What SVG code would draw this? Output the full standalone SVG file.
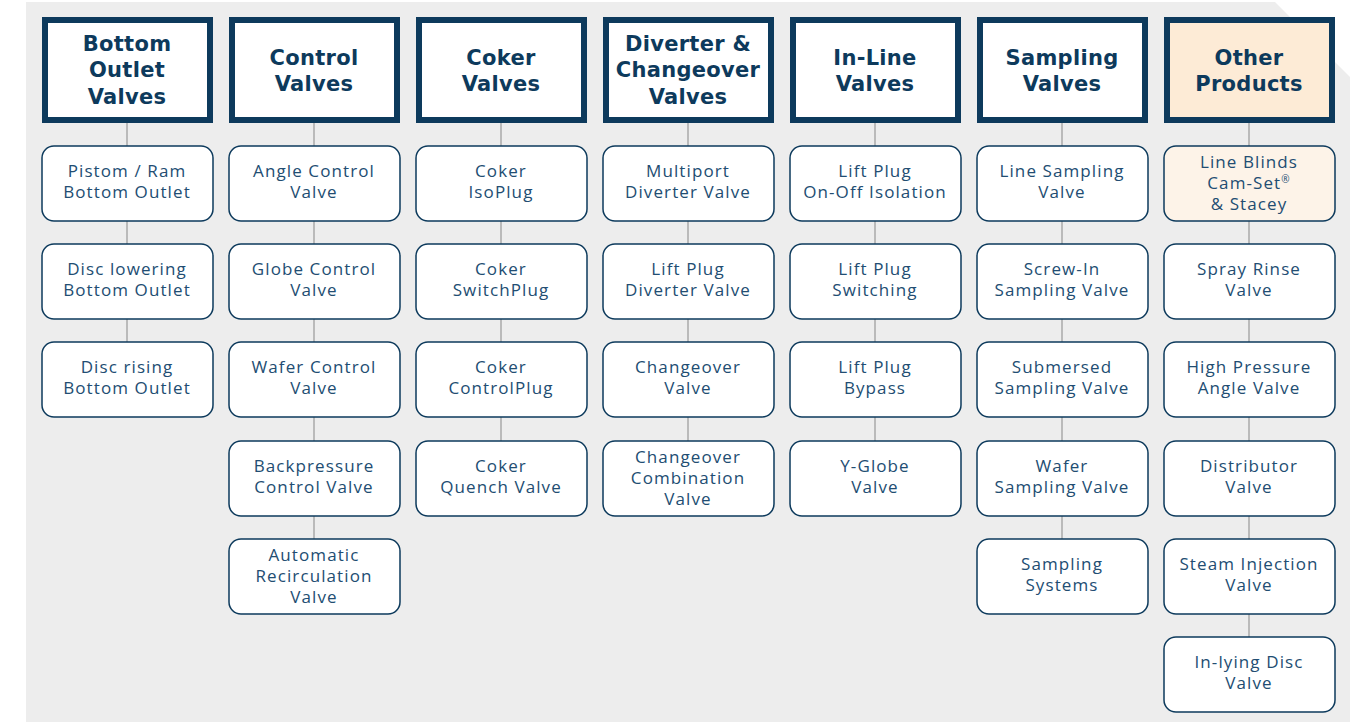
<svg xmlns="http://www.w3.org/2000/svg" width="1356" height="722" viewBox="0 0 1356 722">
<style>
.bg{fill:#ededed}
.hd{fill:#ffffff;stroke:#0d3a5c;stroke-width:6}
.hd.o{fill:#fdebd6}
.bx{fill:#ffffff;stroke:#0d3a5c;stroke-width:1.5}
.bx.o{fill:#fdf3e8}
.ht{font-family:"DejaVu Sans",sans-serif;font-weight:700;font-size:21px;letter-spacing:0.3px;fill:#0d3a5c;text-anchor:middle}
.ct{font-family:"Open Sans","Noto Sans",sans-serif;font-size:17px;letter-spacing:1.1px;fill:#224d72;text-anchor:middle}
.cn line{stroke:#a9a9a9;stroke-width:1.5}
</style>
<polygon class="bg" points="26,2 1275,2 1350,77 1350,722 26,722"/>
<g class="cn">
<line x1="127" y1="123" x2="127" y2="146"/><line x1="127" y1="221" x2="127" y2="244"/><line x1="127" y1="319" x2="127" y2="342"/>
<line x1="314" y1="123" x2="314" y2="146"/><line x1="314" y1="221" x2="314" y2="244"/><line x1="314" y1="319" x2="314" y2="342"/><line x1="314" y1="417" x2="314" y2="441"/><line x1="314" y1="516" x2="314" y2="539"/>
<line x1="501" y1="123" x2="501" y2="146"/><line x1="501" y1="221" x2="501" y2="244"/><line x1="501" y1="319" x2="501" y2="342"/><line x1="501" y1="417" x2="501" y2="441"/>
<line x1="688" y1="123" x2="688" y2="146"/><line x1="688" y1="221" x2="688" y2="244"/><line x1="688" y1="319" x2="688" y2="342"/><line x1="688" y1="417" x2="688" y2="441"/>
<line x1="875" y1="123" x2="875" y2="146"/><line x1="875" y1="221" x2="875" y2="244"/><line x1="875" y1="319" x2="875" y2="342"/><line x1="875" y1="417" x2="875" y2="441"/>
<line x1="1062" y1="123" x2="1062" y2="146"/><line x1="1062" y1="221" x2="1062" y2="244"/><line x1="1062" y1="319" x2="1062" y2="342"/><line x1="1062" y1="417" x2="1062" y2="441"/><line x1="1062" y1="516" x2="1062" y2="539"/>
<line x1="1249" y1="123" x2="1249" y2="146"/><line x1="1249" y1="221" x2="1249" y2="244"/><line x1="1249" y1="319" x2="1249" y2="342"/><line x1="1249" y1="417" x2="1249" y2="441"/><line x1="1249" y1="516" x2="1249" y2="539"/><line x1="1249" y1="614" x2="1249" y2="637"/>
</g>
<g id="h1"><rect class="hd" x="45" y="20" width="165" height="100"/><text class="ht"><tspan x="127" y="51">Bottom</tspan><tspan x="127" y="77">Outlet</tspan><tspan x="127" y="104">Valves</tspan></text></g>
<g id="h2"><rect class="hd" x="232" y="20" width="165" height="100"/><text class="ht"><tspan x="314" y="65">Control</tspan><tspan x="314" y="91">Valves</tspan></text></g>
<g id="h3"><rect class="hd" x="419" y="20" width="165" height="100"/><text class="ht"><tspan x="501" y="65">Coker</tspan><tspan x="501" y="91">Valves</tspan></text></g>
<g id="h4"><rect class="hd" x="606" y="20" width="165" height="100"/><text class="ht"><tspan x="688" y="51">Diverter &amp;</tspan><tspan x="688" y="77">Changeover</tspan><tspan x="688" y="104">Valves</tspan></text></g>
<g id="h5"><rect class="hd" x="793" y="20" width="165" height="100"/><text class="ht"><tspan x="875" y="65">In-Line</tspan><tspan x="875" y="91">Valves</tspan></text></g>
<g id="h6"><rect class="hd" x="980" y="20" width="165" height="100"/><text class="ht"><tspan x="1062" y="65">Sampling</tspan><tspan x="1062" y="91">Valves</tspan></text></g>
<g id="h7"><rect class="hd o" x="1167" y="20" width="165" height="100"/><text class="ht"><tspan x="1249" y="65">Other</tspan><tspan x="1249" y="91">Products</tspan></text></g>
<g id="c1r1"><rect class="bx" x="42" y="146" width="171" height="75" rx="12"/><text class="ct"><tspan x="127" y="177">Pistom / Ram</tspan><tspan x="127" y="198">Bottom Outlet</tspan></text></g>
<g id="c1r2"><rect class="bx" x="42" y="244" width="171" height="75" rx="12"/><text class="ct"><tspan x="127" y="275">Disc lowering</tspan><tspan x="127" y="296">Bottom Outlet</tspan></text></g>
<g id="c1r3"><rect class="bx" x="42" y="342" width="171" height="75" rx="12"/><text class="ct"><tspan x="127" y="373">Disc rising</tspan><tspan x="127" y="394">Bottom Outlet</tspan></text></g>
<g id="c2r1"><rect class="bx" x="229" y="146" width="171" height="75" rx="12"/><text class="ct"><tspan x="314" y="177">Angle Control</tspan><tspan x="314" y="198">Valve</tspan></text></g>
<g id="c2r2"><rect class="bx" x="229" y="244" width="171" height="75" rx="12"/><text class="ct"><tspan x="314" y="275">Globe Control</tspan><tspan x="314" y="296">Valve</tspan></text></g>
<g id="c2r3"><rect class="bx" x="229" y="342" width="171" height="75" rx="12"/><text class="ct"><tspan x="314" y="373">Wafer Control</tspan><tspan x="314" y="394">Valve</tspan></text></g>
<g id="c2r4"><rect class="bx" x="229" y="441" width="171" height="75" rx="12"/><text class="ct"><tspan x="314" y="472">Backpressure</tspan><tspan x="314" y="493">Control Valve</tspan></text></g>
<g id="c2r5"><rect class="bx" x="229" y="539" width="171" height="75" rx="12"/><text class="ct"><tspan x="314" y="561">Automatic</tspan><tspan x="314" y="582">Recirculation</tspan><tspan x="314" y="603">Valve</tspan></text></g>
<g id="c3r1"><rect class="bx" x="416" y="146" width="171" height="75" rx="12"/><text class="ct"><tspan x="501" y="177">Coker</tspan><tspan x="501" y="198">IsoPlug</tspan></text></g>
<g id="c3r2"><rect class="bx" x="416" y="244" width="171" height="75" rx="12"/><text class="ct"><tspan x="501" y="275">Coker</tspan><tspan x="501" y="296">SwitchPlug</tspan></text></g>
<g id="c3r3"><rect class="bx" x="416" y="342" width="171" height="75" rx="12"/><text class="ct"><tspan x="501" y="373">Coker</tspan><tspan x="501" y="394">ControlPlug</tspan></text></g>
<g id="c3r4"><rect class="bx" x="416" y="441" width="171" height="75" rx="12"/><text class="ct"><tspan x="501" y="472">Coker</tspan><tspan x="501" y="493">Quench Valve</tspan></text></g>
<g id="c4r1"><rect class="bx" x="603" y="146" width="171" height="75" rx="12"/><text class="ct"><tspan x="688" y="177">Multiport</tspan><tspan x="688" y="198">Diverter Valve</tspan></text></g>
<g id="c4r2"><rect class="bx" x="603" y="244" width="171" height="75" rx="12"/><text class="ct"><tspan x="688" y="275">Lift Plug</tspan><tspan x="688" y="296">Diverter Valve</tspan></text></g>
<g id="c4r3"><rect class="bx" x="603" y="342" width="171" height="75" rx="12"/><text class="ct"><tspan x="688" y="373">Changeover</tspan><tspan x="688" y="394">Valve</tspan></text></g>
<g id="c4r4"><rect class="bx" x="603" y="441" width="171" height="75" rx="12"/><text class="ct"><tspan x="688" y="463">Changeover</tspan><tspan x="688" y="484">Combination</tspan><tspan x="688" y="505">Valve</tspan></text></g>
<g id="c5r1"><rect class="bx" x="790" y="146" width="171" height="75" rx="12"/><text class="ct"><tspan x="875" y="177">Lift Plug</tspan><tspan x="875" y="198">On-Off Isolation</tspan></text></g>
<g id="c5r2"><rect class="bx" x="790" y="244" width="171" height="75" rx="12"/><text class="ct"><tspan x="875" y="275">Lift Plug</tspan><tspan x="875" y="296">Switching</tspan></text></g>
<g id="c5r3"><rect class="bx" x="790" y="342" width="171" height="75" rx="12"/><text class="ct"><tspan x="875" y="373">Lift Plug</tspan><tspan x="875" y="394">Bypass</tspan></text></g>
<g id="c5r4"><rect class="bx" x="790" y="441" width="171" height="75" rx="12"/><text class="ct"><tspan x="875" y="472">Y-Globe</tspan><tspan x="875" y="493">Valve</tspan></text></g>
<g id="c6r1"><rect class="bx" x="977" y="146" width="171" height="75" rx="12"/><text class="ct"><tspan x="1062" y="177">Line Sampling</tspan><tspan x="1062" y="198">Valve</tspan></text></g>
<g id="c6r2"><rect class="bx" x="977" y="244" width="171" height="75" rx="12"/><text class="ct"><tspan x="1062" y="275">Screw-In</tspan><tspan x="1062" y="296">Sampling Valve</tspan></text></g>
<g id="c6r3"><rect class="bx" x="977" y="342" width="171" height="75" rx="12"/><text class="ct"><tspan x="1062" y="373">Submersed</tspan><tspan x="1062" y="394">Sampling Valve</tspan></text></g>
<g id="c6r4"><rect class="bx" x="977" y="441" width="171" height="75" rx="12"/><text class="ct"><tspan x="1062" y="472">Wafer</tspan><tspan x="1062" y="493">Sampling Valve</tspan></text></g>
<g id="c6r5"><rect class="bx" x="977" y="539" width="171" height="75" rx="12"/><text class="ct"><tspan x="1062" y="570">Sampling</tspan><tspan x="1062" y="591">Systems</tspan></text></g>
<g id="c7r1"><rect class="bx o" x="1164" y="146" width="171" height="75" rx="12"/><text class="ct"><tspan x="1249" y="168">Line Blinds</tspan><tspan x="1249" y="189">Cam-Set</tspan><tspan font-size="10" dy="-6">®</tspan><tspan x="1249" y="210">&amp; Stacey</tspan></text></g>
<g id="c7r2"><rect class="bx" x="1164" y="244" width="171" height="75" rx="12"/><text class="ct"><tspan x="1249" y="275">Spray Rinse</tspan><tspan x="1249" y="296">Valve</tspan></text></g>
<g id="c7r3"><rect class="bx" x="1164" y="342" width="171" height="75" rx="12"/><text class="ct"><tspan x="1249" y="373">High Pressure</tspan><tspan x="1249" y="394">Angle Valve</tspan></text></g>
<g id="c7r4"><rect class="bx" x="1164" y="441" width="171" height="75" rx="12"/><text class="ct"><tspan x="1249" y="472">Distributor</tspan><tspan x="1249" y="493">Valve</tspan></text></g>
<g id="c7r5"><rect class="bx" x="1164" y="539" width="171" height="75" rx="12"/><text class="ct"><tspan x="1249" y="570">Steam Injection</tspan><tspan x="1249" y="591">Valve</tspan></text></g>
<g id="c7r6"><rect class="bx" x="1164" y="637" width="171" height="75" rx="12"/><text class="ct"><tspan x="1249" y="668">In-lying Disc</tspan><tspan x="1249" y="689">Valve</tspan></text></g>
</svg>
